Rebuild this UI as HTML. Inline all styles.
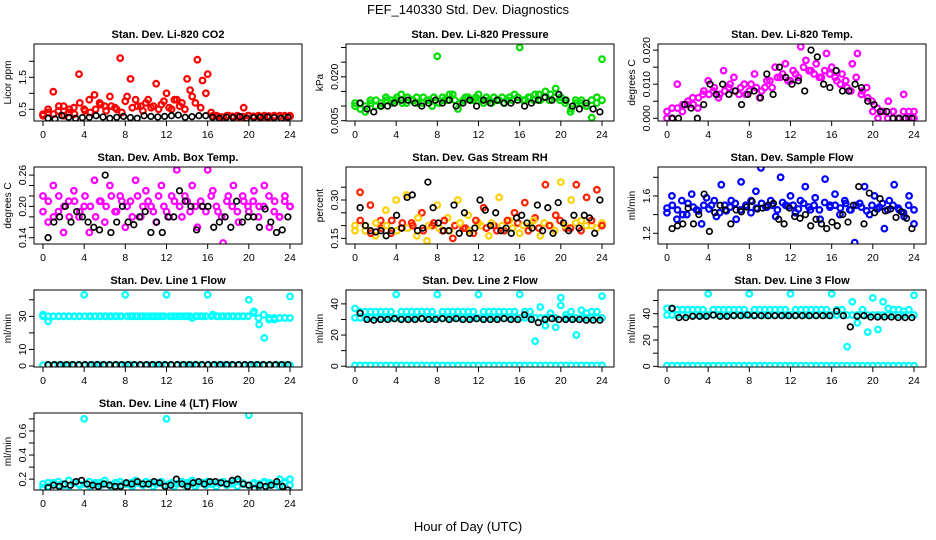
<!DOCTYPE html>
<html><head><meta charset="utf-8"><style>
html,body{margin:0;padding:0;background:#fff;}
svg{display:block;font-family:"Liberation Sans",Arial,sans-serif;}
</style></head><body>
<svg id="chart" width="936" height="540" viewBox="0 0 936 540">
<text x="468" y="14" text-anchor="middle" font-size="13">FEF_140330  Std. Dev. Diagnostics</text>
<text x="468" y="531" text-anchor="middle" font-size="13">Hour of Day (UTC)</text>
</svg>
<script>
// x ticks
const xTicks = [0,4,8,12,16,20,24];
// CO2
const co2 = [0.35,0.5,1.05,0.45,0.6,0.4,0.55,1.6,0.5,0.8,0.95,0.7,0.6,0.9,0.55,2.1,0.75,1.45,0.8,0.6,0.7,0.55,1.3,0.65,1.0,0.5,0.8,0.7,1.45,0.9,2.05,1.4,1.6,0.3,0.28,0.25,0.3,0.27,0.26,0.55,0.3,0.28,0.27,0.3,0.26,0.28,0.3,0.27,0.3];
const co2b = [0.3,0.4,0.35,0.6,0.3,0.5,0.35,0.7,0.45,0.4,0.5,0.65,0.45,0.6,0.5,0.4,0.9,0.55,0.6,0.45,0.8,0.6,0.5,0.75,0.55,0.8,0.6,0.5,1.1,0.7,0.55,1.0,0.4,0.3,0.26,0.3,0.28,0.3,0.27,0.3,0.28,0.3,0.27,0.29,0.3,0.28,0.3,0.28];
const co2K = [0.22,0.2,0.3,0.25,0.22,0.24,0.25,0.3,0.26,0.22,0.25,0.28,0.24,0.22,0.3,0.28,0.26,0.28,0.3,0.32,0.25,0.27,0.3,0.3,0.25,0.22,0.25,0.24,0.27,0.22,0.24,0.25,0.26,0.24,0.22,0.25];
// Pressure
const pres = [0.010,0.011,0.008,0.012,0.010,0.011,0.013,0.012,0.012,0.014,0.011,0.012,0.013,0.011,0.012,0.010,0.027,0.013,0.012,0.014,0.009,0.012,0.013,0.012,0.014,0.011,0.012,0.013,0.012,0.011,0.013,0.014,0.030,0.012,0.013,0.014,0.012,0.015,0.014,0.016,0.013,0.012,0.009,0.011,0.012,0.010,0.006,0.013,0.026];
const presb = [0.011,0.009,0.010,0.011,0.012,0.010,0.012,0.011,0.013,0.011,0.013,0.012,0.011,0.013,0.012,0.013,0.011,0.012,0.014,0.012,0.011,0.013,0.012,0.013,0.012,0.013,0.011,0.012,0.013,0.012,0.012,0.013,0.012,0.013,0.012,0.014,0.013,0.012,0.013,0.012,0.011,0.008,0.012,0.011,0.010,0.012,0.011,0.012];
const presK = [0.011,0.009,0.008,0.010,0.010,0.011,0.012,0.012,0.011,0.010,0.011,0.012,0.011,0.012,0.010,0.011,0.012,0.010,0.012,0.011,0.012,0.011,0.011,0.012,0.010,0.011,0.012,0.013,0.012,0.014,0.012,0.010,0.009,0.011,0.009,0.008];
// Li-820 temp
const temp = [0.0,0.003,0.010,0.002,0.004,0.006,0.003,0.007,0.011,0.008,0.006,0.014,0.009,0.012,0.007,0.010,0.008,0.013,0.006,0.009,0.011,0.015,0.012,0.016,0.011,0.013,0.021,0.017,0.014,0.016,0.012,0.019,0.015,0.011,0.013,0.009,0.016,0.019,0.008,0.006,0.002,0.0,0.002,0.005,0.002,0.0,0.007,0.002,0.0];
const tempb = [0.002,0.0,0.003,0.004,0.005,0.004,0.006,0.008,0.007,0.009,0.007,0.008,0.010,0.008,0.009,0.007,0.010,0.009,0.008,0.011,0.009,0.012,0.013,0.011,0.014,0.012,0.015,0.014,0.013,0.012,0.014,0.013,0.012,0.010,0.011,0.008,0.012,0.007,0.009,0.005,0.003,0.002,0.0,0.002,0.0,0.002,0.0,0.002];
const tempK = [0,0,0.004,0.003,0,0.004,0.010,0.007,0.010,0.007,0.008,0.004,0.007,0.008,0.006,0.013,0.007,0.015,0.012,0.010,0.011,0.008,0.020,0.018,0.010,0.009,0.014,0.008,0.008,0.010,0.009,0.005,0.004,0.002,0.002,0,0,0,0];
// Amb box temp
const amb = [0.22,0.17,0.24,0.19,0.15,0.21,0.23,0.18,0.2,0.15,0.25,0.21,0.17,0.24,0.19,0.22,0.16,0.21,0.25,0.18,0.23,0.2,0.17,0.24,0.19,0.22,0.27,0.18,0.21,0.24,0.16,0.2,0.27,0.23,0.19,0.13,0.22,0.24,0.17,0.21,0.19,0.23,0.2,0.24,0.16,0.21,0.18,0.22,0.2];
const ambb = [0.19,0.21,0.18,0.22,0.2,0.18,0.21,0.19,0.22,0.2,0.18,0.21,0.2,0.22,0.19,0.21,0.2,0.18,0.22,0.2,0.21,0.19,0.22,0.2,0.18,0.21,0.2,0.22,0.19,0.2,0.21,0.19,0.22,0.2,0.18,0.21,0.2,0.19,0.22,0.2,0.21,0.18,0.2,0.22,0.19,0.18,0.21,0.2];
const ambK = [0.14,0.17,0.18,0.2,0.17,0.19,0.18,0.17,0.16,0.155,0.26,0.15,0.17,0.2,0.17,0.165,0.18,0.19,0.15,0.17,0.15,0.18,0.18,0.23,0.21,0.2,0.155,0.2,0.2,0.16,0.17,0.18,0.16,0.21,0.17,0.18,0.18,0.16,0.195,0.17,0.15,0.155,0.18];
// Gas stream RH
const rh = [0.2,0.33,0.18,0.28,0.16,0.22,0.26,0.17,0.3,0.19,0.32,0.21,0.16,0.25,0.14,0.2,0.28,0.18,0.23,0.15,0.3,0.19,0.24,0.17,0.21,0.27,0.16,0.2,0.31,0.18,0.22,0.25,0.17,0.29,0.2,0.23,0.16,0.36,0.2,0.24,0.37,0.19,0.3,0.36,0.22,0.31,0.2,0.34,0.21];
const rhb = [0.18,0.22,0.2,0.17,0.21,0.19,0.2,0.22,0.18,0.21,0.19,0.2,0.23,0.18,0.2,0.21,0.19,0.22,0.18,0.2,0.21,0.19,0.18,0.22,0.2,0.19,0.21,0.18,0.2,0.22,0.19,0.21,0.2,0.18,0.22,0.19,0.21,0.2,0.18,0.22,0.2,0.19,0.21,0.18,0.2,0.22,0.19,0.2];
const rhK = [0.27,0.2,0.18,0.175,0.18,0.16,0.18,0.24,0.19,0.31,0.32,0.18,0.19,0.37,0.27,0.21,0.18,0.18,0.28,0.17,0.25,0.17,0.19,0.3,0.26,0.2,0.25,0.18,0.19,0.17,0.23,0.24,0.21,0.19,0.28,0.18,0.27,0.17,0.29,0.21,0.18,0.24,0.19,0.24,0.23,0.17,0.3];
// Sample flow
const sflow = [1.47,1.6,1.35,1.55,1.4,1.62,1.45,1.3,1.58,1.5,1.38,1.72,1.44,1.55,1.35,1.75,1.5,1.42,1.65,1.9,1.48,1.55,1.38,1.8,1.5,1.6,1.42,1.55,1.7,1.45,1.58,1.35,1.78,1.5,1.62,1.4,1.55,1.45,1.1,1.52,1.7,1.4,1.6,1.48,1.25,1.55,1.72,1.45,1.38,1.6,1.3];
const sflowb = [1.42,1.5,1.45,1.4,1.52,1.48,1.44,1.5,1.46,1.55,1.42,1.5,1.48,1.52,1.45,1.5,1.55,1.47,1.52,1.48,1.5,1.45,1.53,1.49,1.5,1.46,1.52,1.48,1.5,1.45,1.53,1.48,1.5,1.47,1.52,1.45,1.5,1.48,1.44,1.5,1.46,1.52,1.45,1.5,1.47,1.42,1.5,1.45];
const sflowK = [1.25,1.28,1.3,1.47,1.3,1.4,1.62,1.22,1.42,1.5,1.45,1.3,1.45,1.43,1.48,1.54,1.46,1.47,1.5,1.52,1.35,1.3,1.47,1.38,1.36,1.4,1.28,1.35,1.3,1.25,1.32,1.28,1.4,1.32,1.5,1.7,1.3,1.63,1.42,1.57,1.44,1.46,1.37,1.43,1.36,1.25];
// Line flows
const l1 = [31,27,30,30,30,30,30,30,43,30,30,30,30,30,30,30,43,30,30,30,30,30,30,30,43,30,30,30,30,29,30,30,43,31,30,30,30,30,30,30,40,33,25,17,29,28,29,29,42];
const l1b = [30,30,30,30,30,30,30,30,30,30,30,30,30,30,30,30,30,30,30,30,30,30,30,30,30,30,30,30,30,30,30,30,30,30,30,30,30,30,30,30,32,29,31,28,29,29,29,29];
const l1Zero = [0.5,0.5,0.5,0.5,0.5,0.5,0.5,0.5,0.5,0.5,0.5,0.5,0.5,0.5,0.5,0.5,0.5,0.5,0.5,0.5,0.5,0.5,0.5,0.5,0.5,0.5,0.5,0.5,0.5,0.5,0.5,0.5,0.5,0.5,0.5,0.5,0.5,0.5,0.5,0.5,0.5,0.5,0.5,0.5,0.5,0.5,0.5,0.5,0.5];
const l1K = [0.8,0.8,0.8,0.8,0.8,0.8,0.8,0.8,0.8,0.8,0.8,0.8,0.8,0.8,0.8,0.8,0.8,0.8,0.8,0.8,0.8,0.8,0.8,0.8,0.8,0.8,0.8,0.8,0.8,0.8,0.8,0.8,0.8,0.8,0.8,0.8,0.8,0.8,0.8,0.8];
const l2 = [37,35,35,35,35,35,35,35,46,35,35,35,35,35,35,35,46,35,35,35,35,35,35,35,46,35,35,35,35,35,35,35,46,35,35,16,38,26,34,25,44,33,35,20,36,34,35,35,45];
const l2b = [31,31,31,31,31,31,31,31,31,31,31,31,31,31,31,31,31,31,31,31,31,31,31,31,31,31,31,31,31,31,31,31,31,31,31,31,31,31,31,31,39,31,31,31,31,31,31,31,31];
const l2Zero = [0.5,0.5,0.5,0.5,0.5,0.5,0.5,0.5,0.5,0.5,0.5,0.5,0.5,0.5,0.5,0.5,0.5,0.5,0.5,0.5,0.5,0.5,0.5,0.5,0.5,0.5,0.5,0.5,0.5,0.5,0.5,0.5,0.5,0.5,0.5,0.5,0.5,0.5,0.5,0.5,0.5,0.5,0.5,0.5,0.5,0.5,0.5,0.5,0.5];
const l2K = [34,30,29.5,30,30,30.5,30,30,30,30.5,30,30,30.5,30,30.5,30,30,30.5,30,30,30,30.5,30,30,33,30,28,30,30.5,30,30,30,30,29.5,29.5,29.5];
const l3 = [44,44,43,43,43,43,43,43,55,43,43,43,43,43,43,43,55,43,43,43,43,43,43,43,55,43,43,43,43,43,43,43,55,43,43,15,49,33,43,26,52,28,49,44,43,43,42,43,54];
const l3b = [39,39,39,39,39,39,39,39,39,39,39,39,39,39,39,39,39,39,39,39,39,39,39,39,39,39,39,39,39,39,39,39,39,39,39,39,39,39,39,39,39,39,39,39,39,39,39,39,39];
const l3Zero = [0.5,0.5,0.5,0.5,0.5,0.5,0.5,0.5,0.5,0.5,0.5,0.5,0.5,0.5,0.5,0.5,0.5,0.5,0.5,0.5,0.5,0.5,0.5,0.5,0.5,0.5,0.5,0.5,0.5,0.5,0.5,0.5,0.5,0.5,0.5,0.5,0.5,0.5,0.5,0.5,0.5,0.5,0.5,0.5,0.5,0.5,0.5,0.5,0.5];
const l3K = [44,37,37,38,38,38,39,38,38,38.5,38.5,39,38.5,38.5,38.5,38.5,38.5,38.5,38.5,38.5,38.5,38.5,38.5,38.5,42,38.5,30,38,38.5,37.5,37.5,37.5,37.5,37,37,37];
const l4 = [0.13,0.17,0.16,0.18,0.15,0.19,0.17,0.16,0.7,0.18,0.16,0.17,0.19,0.15,0.17,0.18,0.16,0.17,0.19,0.16,0.18,0.17,0.16,0.18,0.7,0.17,0.16,0.18,0.17,0.19,0.16,0.17,0.18,0.16,0.17,0.18,0.16,0.17,0.18,0.16,0.73,0.17,0.16,0.18,0.17,0.16,0.2,0.18,0.2];
const l4b = [0.16,0.14,0.17,0.15,0.16,0.14,0.17,0.15,0.16,0.14,0.17,0.15,0.16,0.14,0.17,0.15,0.16,0.14,0.17,0.15,0.16,0.14,0.17,0.15,0.16,0.14,0.17,0.15,0.16,0.14,0.17,0.15,0.16,0.14,0.17,0.15,0.16,0.14,0.17,0.15,0.16,0.14,0.17,0.15,0.16,0.14,0.17,0.15];
const l4K = [0.13,0.15,0.14,0.16,0.15,0.18,0.19,0.16,0.15,0.14,0.16,0.15,0.14,0.14,0.17,0.16,0.18,0.16,0.16,0.18,0.17,0.14,0.15,0.2,0.16,0.14,0.17,0.18,0.16,0.18,0.18,0.17,0.16,0.19,0.2,0.16,0.15,0.12,0.15,0.14,0.15,0.18,0.14,0.11];

const NS = 'http://www.w3.org/2000/svg';
const svg = document.getElementById('chart');
function mk(tag, attrs, parent){ const e=document.createElementNS(NS,tag); for(const k in attrs) e.setAttribute(k,attrs[k]); (parent||svg).appendChild(e); return e; }

const panels = [
 {key:'co2',col:0,row:0,title:'Stan. Dev. Li-820 CO2',ylab:'Licor ppm',ymin:0.135,ymax:2.54,ticks:[0.5,1,1.5,2],labels:['0.5','','1.5',''],series:[[co2,'#ff0000',0],[co2b,'#ff0000',0],[co2K,'#000',1]]},
 {key:'pressure',col:1,row:0,title:'Stan. Dev. Li-820 Pressure',ylab:'kPa',ymin:0.0049,ymax:0.0312,ticks:[0.005,0.01,0.015,0.02,0.025,0.03],labels:['0.005','','','0.020','',''],series:[[pres,'#00dd00',0],[presb,'#00dd00',0],[presK,'#000',1]]},
 {key:'li820-temp',col:2,row:0,title:'Stan. Dev. Li-820 Temp.',ylab:'degrees C',ymin:-0.0008,ymax:0.0218,ticks:[0,0.005,0.01,0.015,0.02],labels:['0.000','','0.010','','0.020'],series:[[temp,'#ff00ff',0],[tempb,'#ff00ff',0],[tempK,'#000',1]]},
 {key:'amb-box-temp',col:0,row:1,title:'Stan. Dev. Amb. Box Temp.',ylab:'degrees C',ymin:0.128,ymax:0.2755,ticks:[0.14,0.16,0.18,0.2,0.22,0.24,0.26],labels:['0.14','','','0.20','','','0.26'],series:[[amb,'#ff00ff',0],[ambb,'#ff00ff',0],[ambK,'#000',1]]},
 {key:'gas-rh',col:1,row:1,title:'Stan. Dev. Gas Stream RH',ylab:'percent',ymin:0.128,ymax:0.429,ticks:[0.15,0.2,0.25,0.3,0.35],labels:['0.15','','','0.30',''],series:[[rh,'rh',0],[rhb,'rh',0],[rhK,'#000',1]]},
 {key:'sample-flow',col:2,row:1,title:'Stan. Dev. Sample Flow',ylab:'ml/min',ymin:1.085,ymax:1.91,ticks:[1.2,1.4,1.6,1.8],labels:['1.2','','1.6',''],series:[[sflow,'#0000ff',0],[sflowb,'#0000ff',0],[sflowK,'#000',1]]},
 {key:'line1-flow',col:0,row:2,title:'Stan. Dev. Line 1 Flow',ylab:'ml/min',ymin:-0.6,ymax:45.9,ticks:[0,10,20,30,40],labels:['0','10','','30',''],series:[[l1,'#00ffff',0],[l1b,'#00ffff',0],[l1Zero,'#00ffff',0],[l1K,'#000',1]]},
 {key:'line2-flow',col:1,row:2,title:'Stan. Dev. Line 2 Flow',ylab:'ml/min',ymin:-0.5,ymax:48.9,ticks:[0,10,20,30,40],labels:['0','','20','','40'],series:[[l2b,'#00ffff',0],[l2,'#00ffff',0],[l2Zero,'#00ffff',0],[l2K,'#000',1]]},
 {key:'line3-flow',col:2,row:2,title:'Stan. Dev. Line 3 Flow',ylab:'ml/min',ymin:-0.5,ymax:58,ticks:[0,10,20,30,40,50],labels:['0','','20','','40',''],series:[[l3b,'#00ffff',0],[l3,'#00ffff',0],[l3Zero,'#00ffff',0],[l3K,'#000',1]]},
 {key:'line4-flow',col:0,row:3,title:'Stan. Dev. Line 4 (LT) Flow',ylab:'ml/min',ymin:0.11,ymax:0.749,ticks:[0.2,0.3,0.4,0.5,0.6,0.7],labels:['0.2','','0.4','','0.6',''],series:[[l4,'#00ffff',0],[l4b,'#00ffff',0],[l4K,'#000',1]]}
];

const LEFTS=[34,346,658], TOPS=[44,167,290,413], W=268, H=77;
panels.forEach(p=>{
  const L=LEFTS[p.col], T=TOPS[p.row], B=T+H;
  const g = mk('g',{});
  
  
  const xs = t => L+9+t*(W-21)/24;
  const ys = v => B-(v-p.ymin)/(p.ymax-p.ymin)*H;
  const clip = mk('clipPath',{id:'c-'+p.key},g);
  mk('rect',{x:L,y:T,width:W,height:H},clip);
  const sg = mk('g',{'clip-path':'url(#c-'+p.key+')'},g);
  p.series.forEach((s)=>{
    const vals=s[0], black=s[2];
    const n=vals.length;
    vals.forEach((v,i)=>{
      const t = black ? 0.5+i*23.3/(n-1) : i*24/(n-1);
      let col=s[1];
      if(col==='rh') col = (i%2? '#ff2000':'#ffd000');
      const c = mk('circle',{cx:xs(t).toFixed(1),cy:ys(v).toFixed(1),r:2.8,fill:'none',stroke:col,'stroke-width':black?1.7:2.2},sg);
      
      
    });
  });
  const box = mk('rect',{x:L,y:T,width:W,height:H,fill:'none',stroke:'#000','stroke-width':1},g);
  
  
  mk('line',{x1:xs(0),x2:xs(24),y1:B,y2:B,stroke:'#000'},g);
  xTicks.forEach(t=>{
    mk('line',{x1:xs(t),x2:xs(t),y1:B,y2:B+5,stroke:'#000'},g);
    const tx=mk('text',{x:xs(t),y:B+17,'text-anchor':'middle','font-size':10.5},g);
    tx.textContent=t;
    
    
  });
  p.ticks.forEach((v,i)=>{
    const y=ys(v);
    mk('line',{x1:L-5,x2:L,y1:y,y2:y,stroke:'#000'},g);
    if(p.labels[i]){
      const tx=mk('text',{x:L-8,y:y,'text-anchor':'middle','font-size':10.5,transform:'rotate(-90 '+(L-8)+' '+y+')'},g);
      tx.textContent=p.labels[i];
      
      
    }
  });
  const yl=mk('text',{x:L-23,y:T+H/2,'text-anchor':'middle','font-size':10,transform:'rotate(-90 '+(L-23)+' '+(T+H/2)+')'},g);
  yl.textContent=p.ylab;
  
  
  const tt=mk('text',{x:L+W/2,y:T-6,'text-anchor':'middle','font-size':11,'font-weight':'bold'},g);
  tt.textContent=p.title;
  
  
});
</script>
</body></html>
